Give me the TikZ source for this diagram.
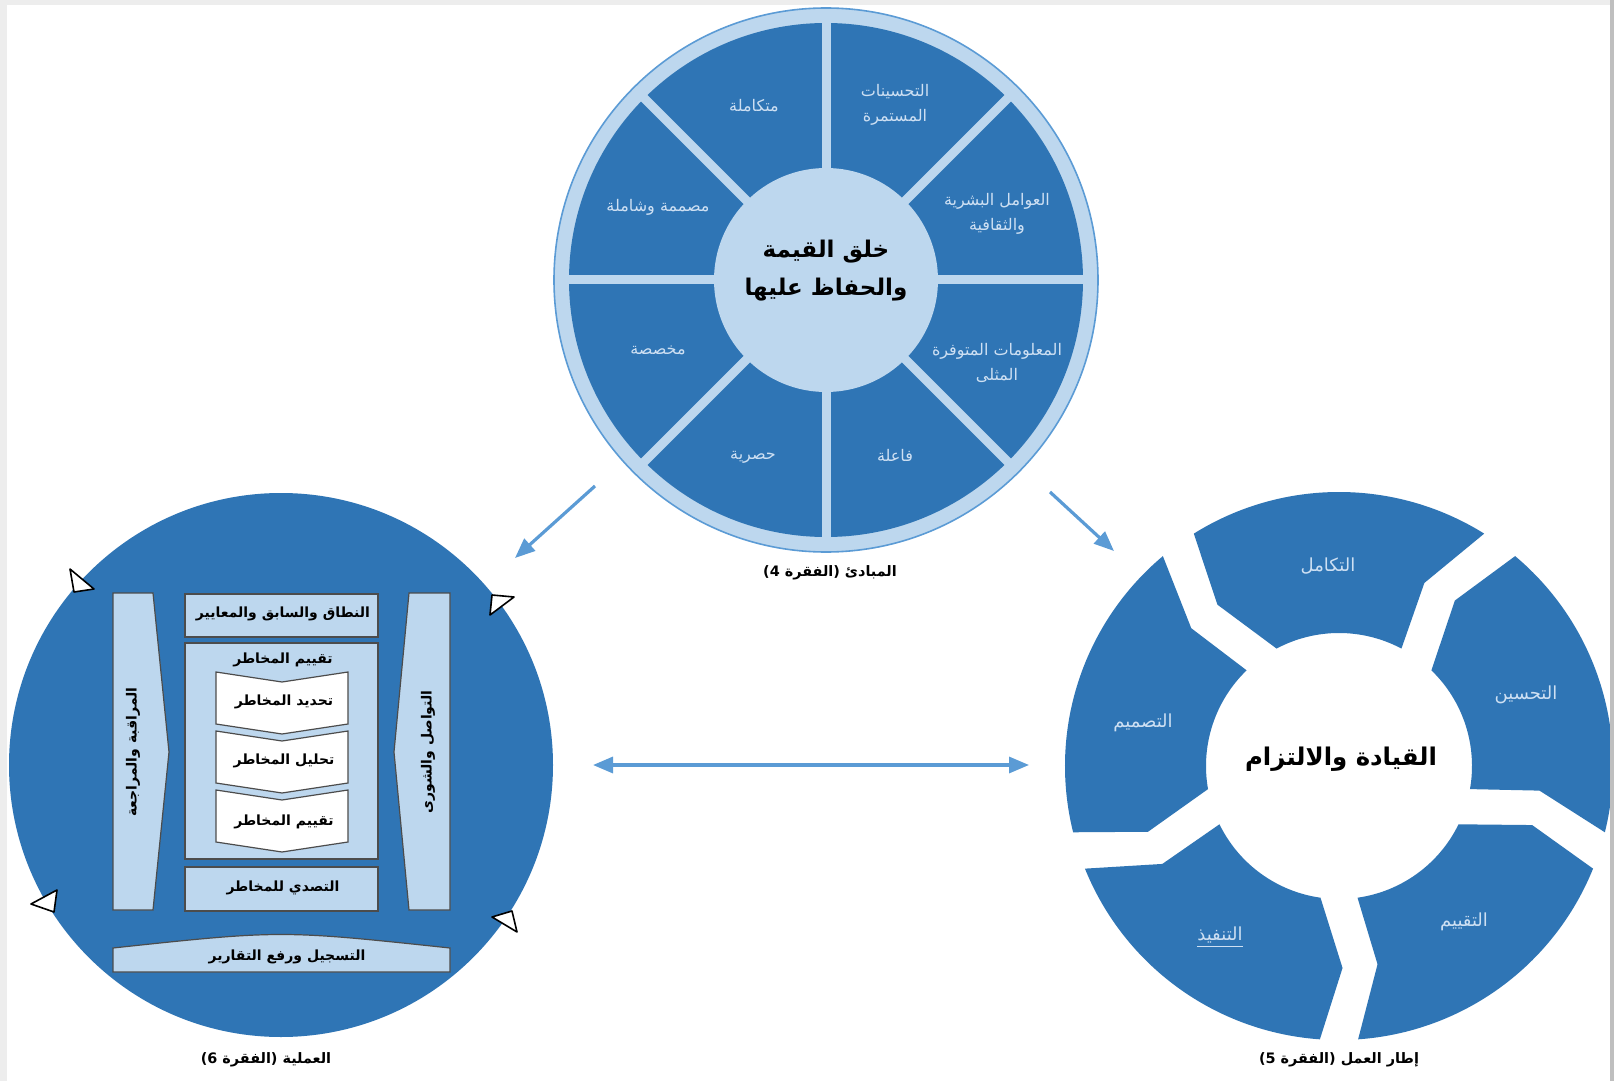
\documentclass[tikz,border=0pt]{standalone}
\usepackage{fontspec}
\setmainfont{DejaVu Sans}
\newfontfamily\arabicfont[Script=Arabic]{DejaVu Sans}
\TeXXeTstate=1
\usetikzlibrary{arrows.meta}

\definecolor{darkblue}{RGB}{47,117,181}
\definecolor{paleblue}{RGB}{189,215,238}
\definecolor{midblue}{RGB}{91,155,213}
\definecolor{labelblue}{RGB}{206,224,243}

\newcommand{\arabtext}[1]{{\arabicfont\beginR #1\endR}}

\tikzset{
  sectorlabel/.style={text=labelblue, align=center, font=\arabicfont\fontsize{8}{12.5}\selectfont},
  headline/.style={text=black, align=center, font=\arabicfont\bfseries\fontsize{11.5}{19}\selectfont},
  captext/.style={text=black, font=\arabicfont\bfseries\fontsize{7.2}{9}\selectfont},
  panel/.style={fill=paleblue, draw=black!70, line width=0.6pt},
  chev/.style={fill=white, draw=black!70, line width=0.6pt},
  boxtext/.style={text=black, font=\arabicfont\bfseries\fontsize{7}{9}\selectfont},
  marker/.style={fill=white, draw=black, line width=0.8pt, line join=round},
  flow/.style={midblue, line width=1.6pt, -{Triangle[length=10pt,width=8pt]}},
}

\begin{document}
\begin{tikzpicture}[x=0.5pt, y=-0.5pt]
\useasboundingbox (0,0) rectangle (1614,1081);
\fill[black!7] (0,0) rectangle (1614,1081);
\fill[white] (7,5) rectangle (1610,1081);

% principles wheel
\coordinate (wc) at (826,280);
\fill[paleblue, draw=midblue, line width=0.8pt] (wc) circle[radius=272];
\fill[darkblue] (wc) circle[radius=257];
\foreach \a in {0,45,...,315}
  \draw[paleblue, line width=4.5pt] (wc) -- ++(\a:262);
\fill[paleblue] (wc) circle[radius=112];

\node[sectorlabel] (ongoing) at (895,105) {\arabtext{التحسينات}\\\arabtext{المستمرة}};
\node[sectorlabel] (integrated) at (754,106) {\arabtext{متكاملة}};
\node[sectorlabel] (structured) at (658,207) {\arabtext{مصممة وشاملة}};
\node[sectorlabel] (human) at (997,214) {\arabtext{العوامل البشرية}\\\arabtext{والثقافية}};
\node[sectorlabel] (info) at (997,363) {\arabtext{المعلومات المتوفرة}\\\arabtext{المثلى}};
\node[sectorlabel] (dynamic) at (895,455) {\arabtext{فاعلة}};
\node[sectorlabel] (inclusive) at (753,457) {\arabtext{حصرية}};
\node[sectorlabel] (custom) at (658,350) {\arabtext{مخصصة}};
\node[headline] (value) at (826,271) {\arabtext{خلق القيمة}\\\arabtext{والحفاظ عليها}};
\node[captext] (capA) at (830,573) {\arabtext{المبادئ (الفقرة 4)}};

% process circle
\coordinate (pc) at (281,765);
\fill[darkblue] (pc) circle[radius=272];
\draw[marker] (70,569) -- (94,589) -- (74,592) -- cycle;
\draw[marker] (492,595) -- (514,597) -- (490,615) -- cycle;
\draw[marker] (57,890) -- (31,904) -- (54,912) -- cycle;
\draw[marker] (492,917) -- (512,911) -- (517,932) -- cycle;

\draw[panel] (113,593) -- (153,593) -- (169,752) -- (153,910) -- (113,910) -- cycle;
\draw[panel] (409,593) -- (450,593) -- (450,910) -- (409,910) -- (394,752) -- cycle;
\draw[panel] (185,594) rectangle (378,637);
\draw[panel] (185,643) rectangle (378,859);
\draw[panel] (185,867) rectangle (378,911);
\draw[panel] (113,972) -- (113,948) .. controls (281,930) .. (450,948) -- (450,972) -- cycle;
\foreach \y in {672,731,790}
  \draw[chev] (216,\y) -- (282,\y+10) -- (348,\y) -- (348,\y+52) -- (282,\y+62) -- (216,\y+52) -- cycle;

\node[boxtext] (scope) at (283,614) {\arabtext{النطاق والسابق والمعايير}};
\node[boxtext] (assess) at (283,660) {\arabtext{تقييم المخاطر}};
\node[boxtext] (identify) at (284,702) {\arabtext{تحديد المخاطر}};
\node[boxtext] (analyse) at (284,761) {\arabtext{تحليل المخاطر}};
\node[boxtext] (evaluate) at (284,822) {\arabtext{تقييم المخاطر}};
\node[boxtext] (treat) at (283,888) {\arabtext{التصدي للمخاطر}};
\node[boxtext, rotate=90] (monitor) at (133,752) {\arabtext{المراقبة والمراجعة}};
\node[boxtext, rotate=90] (consult) at (428,752) {\arabtext{التواصل والشورى}};
\node[boxtext] (record) at (287,957) {\arabtext{التسجيل ورفع التقارير}};
\node[captext] (capC) at (266,1060) {\arabtext{العملية (الفقرة 6)}};

% framework ring
\begin{scope}[shift={(1339,766)}]
\foreach \a in {-90,-18,54,126,198}
  \fill[darkblue] ({\a+32}:274) arc[start angle=\a+32, end angle=\a-32, radius=274]
    -- ({\a-37}:202) -- ({\a-28}:133) arc[start angle=\a-28, end angle=\a+28, radius=133]
    -- ({\a+25}:202) -- cycle;
\end{scope}
\node[sectorlabel, font=\arabicfont\fontsize{9}{12}\selectfont] (integ) at (1328,566) {\arabtext{التكامل}};
\node[sectorlabel, font=\arabicfont\fontsize{9}{12}\selectfont] (improve) at (1526,695) {\arabtext{التحسين}};
\node[sectorlabel, font=\arabicfont\fontsize{9}{12}\selectfont] (evalu) at (1464,922) {\arabtext{التقييم}};
\node[sectorlabel, font=\arabicfont\fontsize{9}{12}\selectfont] (implem) at (1220,937) {\underline{\arabtext{التنفيذ}}};
\node[sectorlabel, font=\arabicfont\fontsize{9}{12}\selectfont] (design) at (1143,723) {\arabtext{التصميم}};
\node[headline, font=\arabicfont\bfseries\fontsize{12.2}{16}\selectfont] (lead) at (1341,759) {\arabtext{القيادة والالتزام}};
\node[captext] (capB) at (1339,1060) {\arabtext{إطار العمل (الفقرة 5)}};

% connectors
\coordinate (a1s) at (595,486);
\coordinate (a1e) at (515,558);
\coordinate (a2s) at (1050,492);
\coordinate (a2e) at (1114,551);
\coordinate (a3w) at (593,765);
\coordinate (a3e) at (1029,765);
\draw[flow] (a1s) -- (a1e);
\draw[flow] (a2s) -- (a2e);
\draw[flow, {Triangle[length=10pt,width=8pt]}-{Triangle[length=10pt,width=8pt]}] (a3w) -- (a3e);

\fill[black!25] (1610,0) rectangle (1614,1081);
\fill[black!7] (0,0) rectangle (1610,5);
\end{tikzpicture}
\end{document}
